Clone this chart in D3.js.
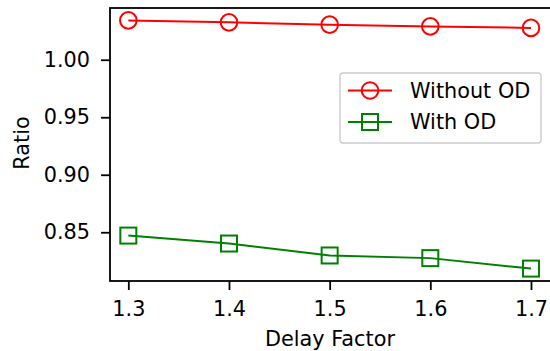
<!DOCTYPE html>
<html>
<head>
<meta charset="utf-8">
<script src="https://cdn.jsdelivr.net/npm/d3@7/dist/d3.min.js"></script>
<style>
  body { margin: 0; background: #fff; }
  text { font-family: "DejaVu Sans", sans-serif; }
</style>
</head>
<body>
<script>
// data
const delayFactors = [1.3, 1.4, 1.5, 1.6, 1.7];
const withoutOD = [1.0342, 1.0325, 1.0305, 1.029, 1.0277];
const withOD = [0.8471, 0.8402, 0.8298, 0.8275, 0.8184];
const xTicks = [1.3, 1.4, 1.5, 1.6, 1.7];
const yTicks = [0.85, 0.90, 0.95, 1.00];

const W = 550, H = 351;
const margin = {top: 8, right: -1, bottom: 70, left: 110};
const width = W - margin.left - margin.right,
    height = H - margin.top - margin.bottom;
const fs = 20.8;

const svg = d3.select("body").append("svg")
    .attr("width", W)
    .attr("height", H);

const g = svg.append("g")
    .attr("transform", `translate(${margin.left}, ${margin.top})`);

// x: ~4.5% padding on each side, the right spine falls just off the canvas
const xExt = d3.extent(delayFactors);
const xPad = (xExt[1] - xExt[0]) * 0.0455;
const x = d3.scaleLinear()
    .domain([xExt[0] - xPad, xExt[1] + xPad])
    .range([0, width - 1.7]);

const yExt = d3.extent(withoutOD.concat(withOD));
const yPad = (yExt[1] - yExt[0]) * 0.05;
const y = d3.scaleLinear()
    .domain([yExt[0] - yPad, yExt[1] + yPad])
    .range([height, 0]);

const xAxis = g.append("g")
    .attr("transform", `translate(0, ${height})`)
    .call(d3.axisBottom(x).tickValues(xTicks).tickSize(9).tickPadding(11)
        .tickFormat(d3.format(".1f")));
const yAxis = g.append("g")
    .call(d3.axisLeft(y).tickValues(yTicks).tickSize(9).tickPadding(11)
        .tickFormat(d3.format(".2f")));

[xAxis, yAxis].forEach(a => {
    a.select(".domain").remove();
    a.selectAll(".tick line").attr("stroke", "#000").attr("stroke-width", 1.8);
    a.selectAll(".tick text").attr("font-size", fs).attr("font-family", "DejaVu Sans").attr("fill", "#000");
});

// frame
g.append("rect")
    .attr("x", 0).attr("y", 0)
    .attr("width", width).attr("height", height)
    .attr("fill", "none")
    .attr("stroke", "#000")
    .attr("stroke-width", 1.8);

const line = d3.line()
    .x((d, i) => x(delayFactors[i]))
    .y(d => y(d));

const series = [
    {name: "Without OD", values: withoutOD, color: "red", marker: "circle"},
    {name: "With OD", values: withOD, color: "green", marker: "square"}
];

const drawMarker = (sel, s, cx, cy) => {
    if (s.marker === "circle") {
        sel.append("circle")
            .attr("cx", cx).attr("cy", cy).attr("r", 8.3)
            .attr("fill", "none").attr("stroke", s.color).attr("stroke-width", 2);
    } else {
        sel.append("rect")
            .attr("x", cx - 8).attr("y", cy - 8)
            .attr("width", 16).attr("height", 16)
            .attr("fill", "none").attr("stroke", s.color).attr("stroke-width", 2);
    }
};

series.forEach(s => {
    g.append("path")
        .datum(s.values)
        .attr("d", line)
        .attr("fill", "none")
        .attr("stroke", s.color)
        .attr("stroke-width", 2);
    const mg = g.append("g");
    s.values.forEach((v, i) => drawMarker(mg, s, x(delayFactors[i]), y(v)));
});

// legend
const leg = svg.append("g").attr("transform", "translate(340, 73)");
leg.append("rect")
    .attr("width", 201).attr("height", 70)
    .attr("rx", 3)
    .attr("fill", "#fff").attr("fill-opacity", 0.8)
    .attr("stroke", "#ccc").attr("stroke-width", 1.4);
series.forEach((s, i) => {
    const cy = 17.5 + i * 31.5;
    leg.append("line")
        .attr("x1", 8).attr("x2", 52)
        .attr("y1", cy).attr("y2", cy)
        .attr("stroke", s.color).attr("stroke-width", 2);
    drawMarker(leg, s, 30, cy);
    leg.append("text")
        .attr("x", 70).attr("y", cy)
        .attr("dy", "0.36em")
        .attr("font-size", fs)
        .text(s.name);
});

// axis labels
svg.append("text")
    .attr("x", 330)
    .attr("y", 346)
    .attr("text-anchor", "middle")
    .attr("font-size", fs)
    .text("Delay Factor");

svg.append("text")
    .attr("transform", `translate(29, 143) rotate(-90)`)
    .attr("text-anchor", "middle")
    .attr("font-size", fs)
    .text("Ratio");
</script>
</body>
</html>
